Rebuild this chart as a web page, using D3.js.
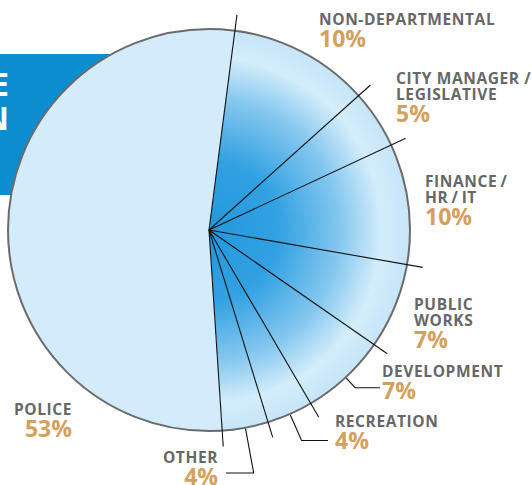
<!DOCTYPE html>
<html>
<head>
<meta charset="utf-8">
<script src="https://cdn.jsdelivr.net/npm/d3@7"></script>
<style>
  body { margin: 0; background: #fff; }
  svg { display: block; font-family: "Open Sans", sans-serif; }
</style>
</head>
<body>
<div id="chart"></div>
<script>
// slices, clockwise from just right of 12 o'clock
const departments = [
  ["NON-DEPARTMENTAL"],
  ["CITY MANAGER /", "LEGISLATIVE"],
  ["FINANCE\u2009/", "HR\u2009/\u2009IT"],
  ["PUBLIC", "WORKS"],
  ["DEVELOPMENT"],
  ["RECREATION"],
  ["OTHER"],
  ["POLICE"]
];
const shares = [11.3, 4.7, 9.7, 6.9, 6.9, 3.7, 3.7, 53.1];
const shareLabels = ["10%", "5%", "10%", "7%", "7%", "4%", "4%", "53%"];
const titleLines = ["EXPENDITURE", "BY FUNCTION"];

// label placement (x, baseline of first line, anchor)
const labelPos = [
  {x: 319, y: 25, anchor: "start"},
  {x: 396, y: 84, anchor: "start"},
  {x: 425, y: 187, anchor: "start"},
  {x: 414, y: 310, anchor: "start"},
  {x: 382, y: 377, anchor: "start"},
  {x: 335, y: 427, anchor: "start"},
  {x: 218, y: 463, anchor: "end"},
  {x: 72, y: 415, anchor: "end"}
];
// elbow leaders: slice index, elbow radius, end x
const leaders = [
  {i: 4, r: 215, x: 380},
  {i: 5, r: 230, x: 328},
  {i: 6, r: 247, x: 226}
];

const width = 532;
const height = 485;
const cx = 209, cy = 230, radius = 201;
const startAngle = 7.4 * Math.PI / 180;

const svg = d3.select("#chart").append("svg")
  .attr("width", width)
  .attr("height", height);

// BANNER behind the pie
svg.append("rect")
  .attr("x", 0).attr("y", 54)
  .attr("width", 200).attr("height", 141)
  .attr("fill", "#0b8dd0");

svg.append("text")
  .attr("text-anchor", "end")
  .attr("fill", "#fff")
  .style("font-size", "33px")
  .style("font-weight", 700)
  .selectAll("tspan")
  .data(titleLines)
  .enter().append("tspan")
  .attr("x", 9)
  .attr("y", (d, i) => 96 + i * 34)
  .text(d => d);

// GRADIENT
const defs = svg.append("defs");
const grad = defs.append("radialGradient")
  .attr("id", "sliceGrad")
  .attr("gradientUnits", "userSpaceOnUse")
  .attr("cx", 0).attr("cy", 0).attr("r", radius);
[[0, "#2398dd"], [0.35, "#32a1e2"], [0.65, "#84c7ef"], [0.86, "#d4edfb"], [1, "#c6e5f8"]]
  .forEach(s => grad.append("stop").attr("offset", s[0]).attr("stop-color", s[1]));

const pie = d3.pie()
  .sort(null)
  .value(d => d)
  .startAngle(startAngle)
  .endAngle(startAngle + 2 * Math.PI);
const arcs = pie(shares);

const arc = d3.arc().innerRadius(0).outerRadius(radius);

const g = svg.append("g").attr("transform", "translate(" + cx + "," + cy + ")");

g.selectAll("path.slice")
  .data(arcs)
  .enter().append("path")
  .attr("class", "slice")
  .attr("d", arc)
  .attr("fill", (d, i) => i === shares.length - 1 ? "#d3ecfc" : "url(#sliceGrad)");

g.append("circle")
  .attr("r", radius)
  .attr("fill", "none")
  .attr("stroke", "#6b6b6b")
  .attr("stroke-width", 2);

// slice boundaries, running a little past the rim
const polar = (a, r) => [r * Math.sin(a), -r * Math.cos(a)];
g.selectAll("line.edge")
  .data(arcs)
  .enter().append("line")
  .attr("class", "edge")
  .attr("x1", 0).attr("y1", 0)
  .attr("x2", d => polar(d.startAngle, 217)[0])
  .attr("y2", d => polar(d.startAngle, 217)[1])
  .attr("stroke", "#111")
  .attr("stroke-width", 1.1);

// elbow leaders for the small bottom slices
g.selectAll("path.leader")
  .data(leaders)
  .enter().append("path")
  .attr("class", "leader")
  .attr("d", d => {
    const a = (arcs[d.i].startAngle + arcs[d.i].endAngle) / 2;
    const p0 = polar(a, radius + 1);
    const p1 = polar(a, d.r);
    return "M" + p0 + "L" + p1 + "L" + [d.x - cx, p1[1]];
  })
  .attr("fill", "none")
  .attr("stroke", "#111")
  .attr("stroke-width", 1.1);

// LABELS: name lines + percentage in one text element
svg.selectAll("text.label")
  .data(departments)
  .enter().append("text")
  .attr("class", "label")
  .attr("text-anchor", (d, i) => labelPos[i].anchor)
  .style("font-weight", 700)
  .each(function (lines, i) {
    const t = d3.select(this);
    const p = labelPos[i];
    lines.forEach((line, j) => {
      t.append("tspan")
        .attr("x", p.x)
        .attr("y", p.y + j * 15.5)
        .attr("fill", "#676767")
        .style("font-size", "15.5px")
        .style("letter-spacing", "0.6px")
        .text(line);
    });
    t.append("tspan")
      .attr("x", p.x)
      .attr("y", p.y + (lines.length - 1) * 15.5 + 22)
      .attr("fill", "#d4a05c")
      .style("font-size", "23px")
      .text(shareLabels[i]);
  });
</script>
</body>
</html>
